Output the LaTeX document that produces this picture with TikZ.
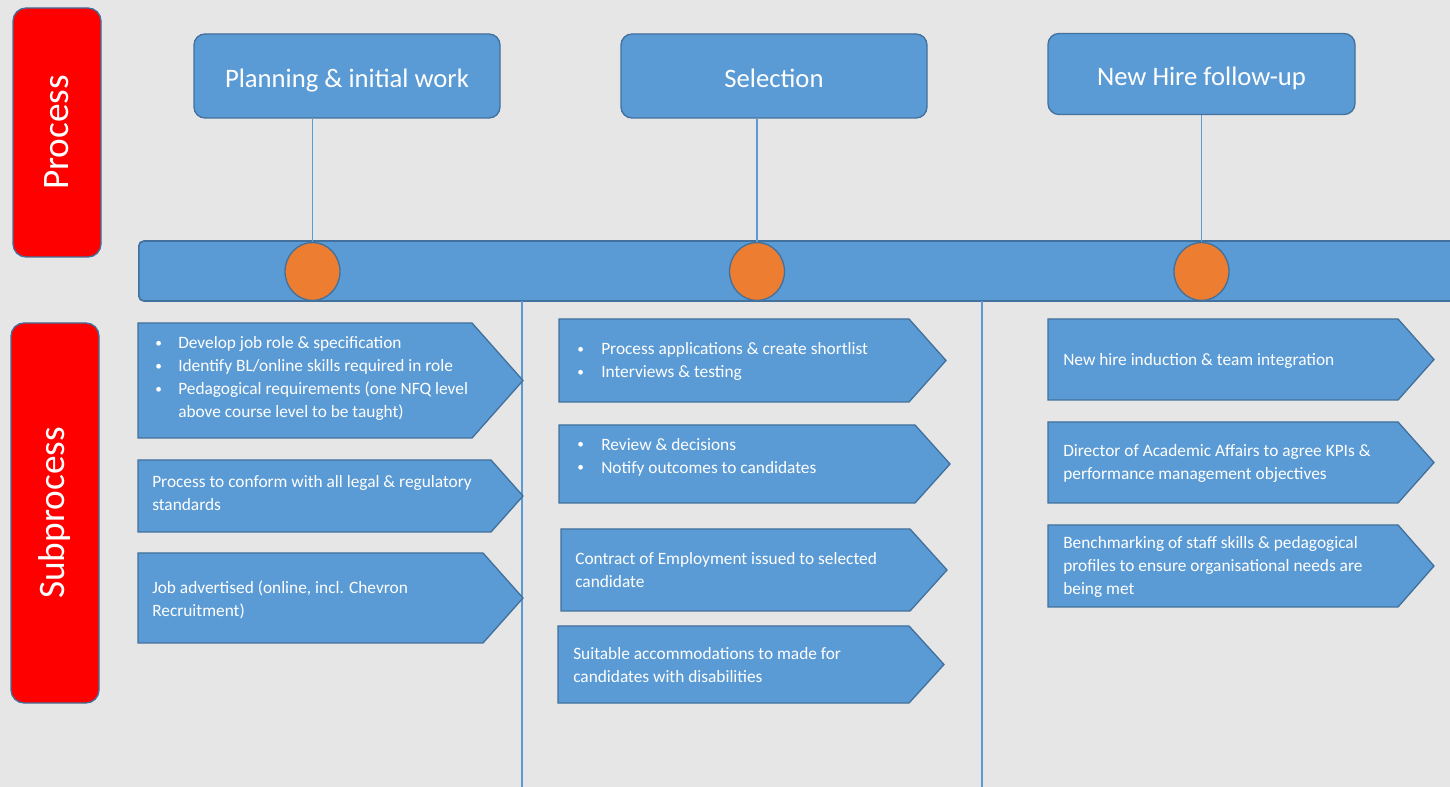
\documentclass[tikz,border=0pt]{standalone}
\usepackage{fontspec}
\setmainfont{Carlito}
\usetikzlibrary{shapes.geometric}

\definecolor{canvas}{HTML}{E6E6E6}
\definecolor{boxblue}{HTML}{5B9BD5}
\definecolor{edgeblue}{HTML}{41719C}
\definecolor{dotorange}{HTML}{ED7D31}
\definecolor{labelred}{HTML}{FF0000}

\newlength\pxu
\setlength\pxu{0.75pt}

% chevron outline: name, left x, top y, end of body x, tip x, bottom y
\newcommand\chevron[6]{%
  \path[chevbox] (#2,#3) -- (#4,#3) -- (#5,{(#3+#6)/2}) -- (#4,#6) -- (#2,#6) -- cycle;
  \coordinate (#1) at (#2,{(#3+#6)/2});}

% small list bullet
\newcommand\bul{\raisebox{0.9pt}{\fontsize{10}{10}\selectfont\textbullet}}

\begin{document}
\begin{tikzpicture}[x=0.75pt,y=-0.75pt,
  sidebar/.style={draw=edgeblue, fill=labelred, line width=1pt, rounded corners=13\pxu,
    rotate=90, text=white, font=\fontsize{28}{32}\selectfont, inner sep=0pt},
  titlebox/.style={draw=edgeblue, fill=boxblue, line width=1pt, rounded corners=11\pxu,
    text=white, font=\fontsize{20}{24}\selectfont, inner sep=0pt,
    text height=18pt, text depth=0pt},
  barbox/.style={draw=edgeblue, fill=boxblue, line width=1.2pt, rounded corners=5\pxu, inner sep=0pt},
  dot/.style={ellipse, draw=edgeblue, fill=dotorange, line width=1pt, inner sep=0pt,
    minimum width=55\pxu, minimum height=58\pxu},
  chevbox/.style={draw=edgeblue, fill=boxblue, line width=1pt},
  chevtext/.style={text=white, inner sep=0pt, align=left, anchor=west,
    font=\fontsize{13}{17.25}\selectfont},
  link/.style={draw=boxblue, line width=0.9pt},
  divider/.style={draw=boxblue, line width=0.9pt}]

\useasboundingbox (0,0) rectangle (1450,787);
\clip (0,0) rectangle (1450,787);
\fill[canvas] (0,0) rectangle (1450,787);

% row labels
\node[sidebar, minimum width=249\pxu, minimum height=88\pxu] (proc) at (57,132.5) {Process};
\node[sidebar, minimum width=380\pxu, minimum height=88\pxu] (subproc) at (55,513) {Subprocess};

% stage headings
\node[titlebox, minimum width=306\pxu, minimum height=84\pxu] (plan) at (347,76) {Planning \& initial work};
\node[titlebox, minimum width=306\pxu, minimum height=84\pxu] (sel) at (774,76) {Selection};
\node[titlebox, minimum width=307\pxu, minimum height=81\pxu] (hire) at (1201.5,74) {New Hire follow-up};

% timeline bar and milestones
\node[barbox, anchor=west, minimum width=1340\pxu, minimum height=60\pxu] (bar) at (138,271) {};
\node[dot] (m1) at (312.5,271.5) {};
\node[dot] (m2) at (757,271.5) {};
\node[dot] (m3) at (1201.5,271.5) {};

\draw[link] (m1.north) -- (m1.north |- plan.south);
\draw[link] (m2.north) -- (m2.north |- sel.south);
\draw[link] (m3.north) -- (m3.north |- hire.south);

% column dividers
\coordinate (d1top) at (522,301);
\coordinate (d1bot) at (522,787);
\coordinate (d2top) at (982,301);
\coordinate (d2bot) at (982,787);
\draw[divider] (d1top) -- (d1bot);
\draw[divider] (d2top) -- (d2bot);

% planning column
\chevron{a1}{138}{323}{472}{523}{438}
\chevron{a2}{138}{460}{491}{523}{532}
\chevron{a3}{138}{553}{483}{523}{643}
\node[chevtext] (ta1) at (155,378.5) {\begin{tabular}{@{}p{17.25pt}@{}l@{}}
\bul & Develop job role \& specification\\
\bul & Identify BL/online skills required in role\\
\bul & Pedagogical requirements (one NFQ level\\
 & above course level to be taught)
\end{tabular}};
\node[chevtext] (ta2) at (152,493) {Process to conform with all legal \& regulatory\\standards};
\node[chevtext] (ta3) at (152,599.5) {Job advertised (online, incl. Chevron\\Recruitment)};

% selection column
\chevron{b1}{559}{319}{909}{946}{402}
\chevron{b2}{559}{425}{915}{950}{503}
\chevron{b3}{561}{529}{910}{947}{611}
\chevron{b4}{558}{626}{909}{944}{703}
\node[chevtext] (tb1) at (577,361.5) {\begin{tabular}{@{}p{18pt}@{}l@{}}
\bul & Process applications \& create shortlist\\
\bul & Interviews \& testing
\end{tabular}};
\node[chevtext] (tb2) at (577,457) {\begin{tabular}{@{}p{18pt}@{}l@{}}
\bul & Review \& decisions\\
\bul & Notify outcomes to candidates
\end{tabular}};
\node[chevtext] (tb3) at (575,570.5) {Contract of Employment issued to selected\\candidate};
\node[chevtext] (tb4) at (573,665.5) {Suitable accommodations to made for\\candidates with disabilities};

% follow-up column
\chevron{c1}{1048}{319}{1398}{1434}{400}
\chevron{c2}{1048}{422}{1398}{1434}{503}
\chevron{c3}{1048}{525}{1398}{1434}{607}
\node[chevtext] (tc1) at (1063,361) {New hire induction \& team integration};
\node[chevtext] (tc2) at (1063,463.5) {Director of Academic Affairs to agree KPIs \&\\performance management objectives};
\node[chevtext] (tc3) at (1063,566.5) {Benchmarking of staff skills \& pedagogical\\profiles to ensure organisational needs are\\being met};

\end{tikzpicture}
\end{document}
